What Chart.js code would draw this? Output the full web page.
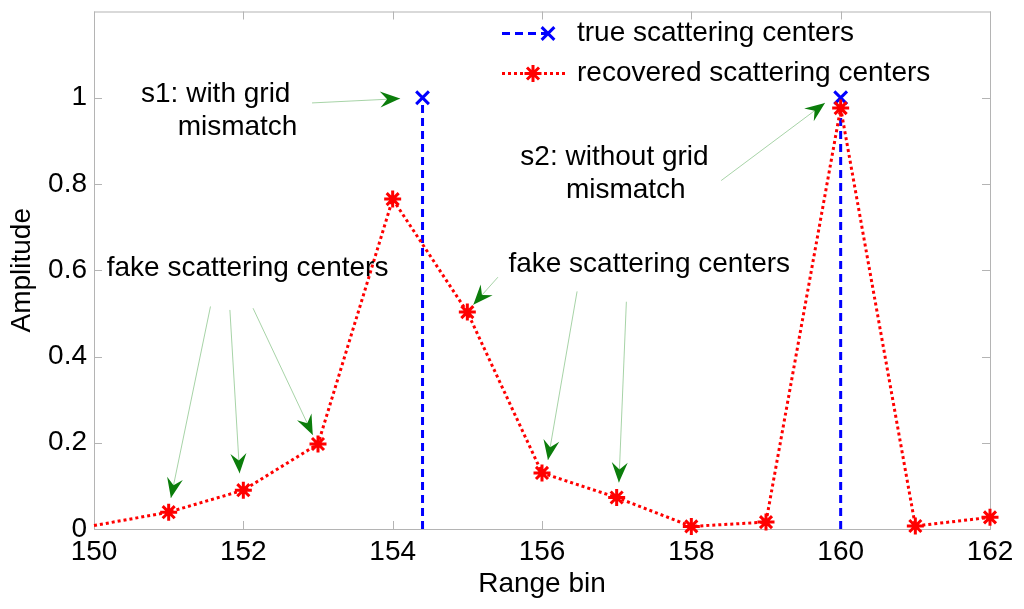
<!DOCTYPE html>
<html>
<head>
<meta charset="utf-8">
<script src="https://cdn.jsdelivr.net/npm/chart.js@4.4.0/dist/chart.umd.min.js"></script>
<style>
html, body { margin: 0; padding: 0; background: #fff; }
#wrap { width: 1024px; height: 609px; }
</style>
</head>
<body>
<div id="wrap"><canvas id="chart" width="1024" height="609"></canvas></div>
<script>
// values
const rangeBins = [150, 151, 152, 153, 154, 155, 156, 157, 158, 159, 160, 161, 162];
const recoveredAmp = [0.008, 0.039, 0.09, 0.197, 0.765, 0.503, 0.13, 0.073, 0.006, 0.016, 0.976, 0.007, 0.027];
const trueBins = [154.4, 160];
const trueAmp = [1, 1];
const xTicks = [150, 152, 154, 156, 158, 160, 162];
const yTicks = [0, 0.2, 0.4, 0.6, 0.8, 1];
const seriesLabels = ['true scattering centers', 'recovered scattering centers'];

// annotation texts and arrows, placed in data units
const notes = [
    { text: 's1: with grid', x: 150.63, y: 0.991 },
    { text: 'mismatch', x: 151.12, y: 0.914 },
    { text: 'fake scattering centers', x: 150.17, y: 0.587 },
    { text: 'fake scattering centers', x: 155.55, y: 0.597 },
    { text: 's2: without grid', x: 155.71, y: 0.843 },
    { text: 'mismatch', x: 156.32, y: 0.768 }
];
const arrows = [
    { from: [152.92, 0.988], to: [154.10, 0.998] },
    { from: [151.56, 0.516], to: [151.03, 0.072] },
    { from: [151.82, 0.508], to: [151.95, 0.129] },
    { from: [152.13, 0.512], to: [152.93, 0.218] },
    { from: [155.41, 0.584], to: [155.08, 0.520] },
    { from: [156.47, 0.551], to: [156.08, 0.160] },
    { from: [157.13, 0.527], to: [157.03, 0.108] },
    { from: [158.40, 0.808], to: [159.79, 0.988] }
];

const FONT = '"Liberation Sans", Arial, sans-serif';

// stems for the true centers: base, top, gap
const trueData = [];
trueBins.forEach((b, i) => {
    trueData.push({ x: b, y: 0 }, { x: b, y: trueAmp[i] }, { x: b, y: null });
});
const recData = rangeBins.map((b, i) => ({ x: b, y: recoveredAmp[i] }));

function drawArrow(ctx, x1, y1, x2, y2) {
    ctx.save();
    ctx.strokeStyle = 'rgba(0,128,0,0.35)';
    ctx.lineWidth = 1;
    ctx.beginPath();
    ctx.moveTo(x1, y1);
    ctx.lineTo(x2, y2);
    ctx.stroke();
    const ang = Math.atan2(y2 - y1, x2 - x1);
    ctx.translate(x2, y2);
    ctx.rotate(ang);
    ctx.fillStyle = '#0b7d0b';
    ctx.beginPath();
    ctx.moveTo(0, 0);
    ctx.lineTo(-20, -8);
    ctx.lineTo(-13, 0);
    ctx.lineTo(-20, 8);
    ctx.closePath();
    ctx.fill();
    ctx.restore();
}

const framePlugin = {
    id: 'frame',
    beforeDatasetsDraw(chart) {
        const { ctx, chartArea: a, scales: { x, y } } = chart;
        ctx.save();
        ctx.strokeStyle = '#b4b4b4';
        ctx.lineWidth = 1;
        ctx.strokeRect(a.left + 0.5, a.top + 0.5, a.width, a.height);
        ctx.beginPath();
        xTicks.forEach(v => {
            const px = Math.round(x.getPixelForValue(v)) + 0.5;
            ctx.moveTo(px, a.bottom); ctx.lineTo(px, a.bottom - 8);
            ctx.moveTo(px, a.top); ctx.lineTo(px, a.top + 8);
        });
        yTicks.forEach(v => {
            const py = Math.round(y.getPixelForValue(v)) + 0.5;
            ctx.moveTo(a.left, py); ctx.lineTo(a.left + 8, py);
            ctx.moveTo(a.right, py); ctx.lineTo(a.right - 8, py);
        });
        ctx.stroke();
        ctx.restore();
    },
    afterDatasetsDraw(chart) {
        const { ctx, chartArea: a, scales: { x, y } } = chart;
        arrows.forEach(ar => {
            drawArrow(ctx, x.getPixelForValue(ar.from[0]), y.getPixelForValue(ar.from[1]),
                x.getPixelForValue(ar.to[0]), y.getPixelForValue(ar.to[1]));
        });
        ctx.save();
        ctx.fillStyle = '#000';
        ctx.font = '28px ' + FONT;
        ctx.textAlign = 'left';
        ctx.textBaseline = 'alphabetic';
        notes.forEach(n => ctx.fillText(n.text, x.getPixelForValue(n.x), y.getPixelForValue(n.y)));

        // legend, no box
        const lx = a.left + 408;
        const rows = [a.top + 22, a.top + 62];
        const ds = chart.data.datasets;
        // true
        ctx.strokeStyle = ds[1].borderColor;
        ctx.lineWidth = 3;
        ctx.setLineDash(ds[1].borderDash);
        ctx.beginPath(); ctx.moveTo(lx, rows[0]); ctx.lineTo(lx + 46, rows[0]); ctx.stroke();
        ctx.setLineDash([]);
        Chart.helpers.drawPoint(ctx, { pointStyle: 'crossRot', radius: 9, borderWidth: 3, rotation: 0 }, lx + 46, rows[0]);
        // recovered
        ctx.strokeStyle = ds[0].borderColor;
        ctx.setLineDash(ds[0].borderDash);
        ctx.beginPath(); ctx.moveTo(lx, rows[1]); ctx.lineTo(lx + 63, rows[1]); ctx.stroke();
        ctx.setLineDash([]);
        Chart.helpers.drawPoint(ctx, { pointStyle: 'star', radius: 8.5, borderWidth: 3, rotation: 0 }, lx + 31, rows[1]);
        ctx.fillStyle = '#000';
        ctx.textBaseline = 'middle';
        ctx.fillText(seriesLabels[0], lx + 75, rows[0]);
        ctx.fillText(seriesLabels[1], lx + 75, rows[1]);
        ctx.restore();
    }
};

new Chart(document.getElementById('chart'), {
    type: 'line',
    data: {
        datasets: [{
            label: seriesLabels[1],
            data: recData,
            borderColor: '#ff0000',
            backgroundColor: '#ff0000',
            borderWidth: 3,
            borderDash: [3, 3],
            pointStyle: 'star',
            pointRadius: ctx => ctx.index === 0 ? 0 : 8.5,
            pointBorderWidth: 3,
            pointBorderColor: '#ff0000',
            tension: 0,
            clip: false,
            order: 0
        }, {
            label: seriesLabels[0],
            data: trueData,
            borderColor: '#0000ff',
            backgroundColor: '#0000ff',
            borderWidth: 3,
            borderDash: [8, 5],
            pointStyle: 'crossRot',
            pointRadius: ctx => ctx.index % 3 === 1 ? 9 : 0,
            pointBorderWidth: 3,
            pointBorderColor: '#0000ff',
            spanGaps: false,
            tension: 0,
            clip: false,
            order: 1
        }]
    },
    options: {
        responsive: false,
        animation: false,
        layout: { padding: { left: 0, right: 34, top: 11, bottom: 0 } },
        plugins: { legend: { display: false }, tooltip: { enabled: false } },
        scales: {
            x: {
                type: 'linear',
                min: 150,
                max: 162,
                afterBuildTicks: s => { s.ticks = xTicks.map(v => ({ value: v })); },
                afterFit: s => { s.height = 80; s.paddingLeft = 0; s.paddingRight = 0; },
                grid: { display: false, drawTicks: false },
                border: { display: false },
                ticks: {
                    color: '#000',
                    font: { family: FONT, size: 28 },
                    padding: 6,
                    maxRotation: 0,
                    callback: v => String(v)
                },
                title: {
                    display: true,
                    text: 'Range bin',
                    color: '#000',
                    font: { family: FONT, size: 28 },
                    padding: { top: 0, bottom: 8 }
                }
            },
            y: {
                type: 'linear',
                min: 0,
                max: 1.2,
                afterBuildTicks: s => { s.ticks = yTicks.map(v => ({ value: v })); },
                afterFit: s => { s.width = 94; s.paddingTop = 0; s.paddingBottom = 0; },
                grid: { display: false, drawTicks: false },
                border: { display: false },
                ticks: {
                    color: '#000',
                    font: { family: FONT, size: 28 },
                    padding: 7,
                    callback: v => String(Math.round(v * 10) / 10)
                },
                title: {
                    display: true,
                    text: 'Amplitude',
                    color: '#000',
                    font: { family: FONT, size: 28 },
                    padding: { top: 5, bottom: 0 }
                }
            }
        }
    },
    plugins: [framePlugin]
});
</script>
</body>
</html>
